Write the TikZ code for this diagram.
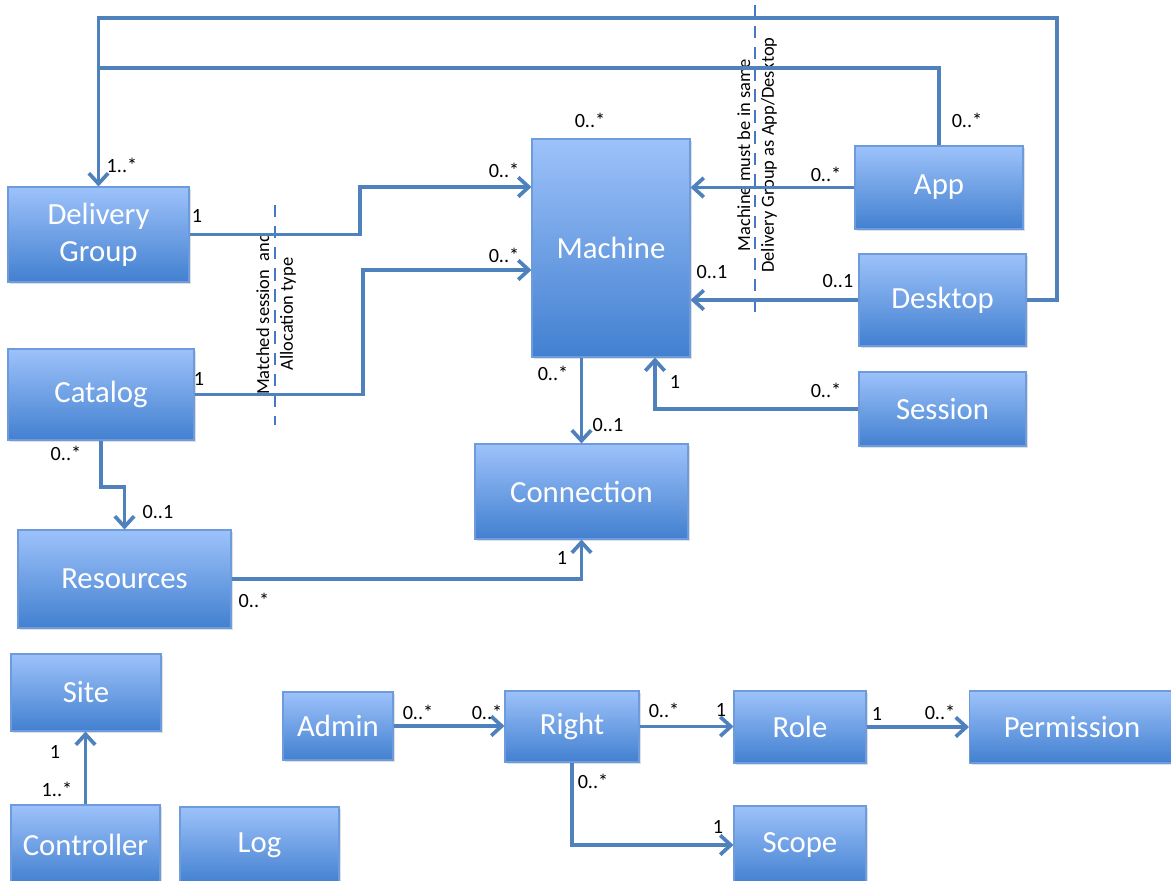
\documentclass[tikz,border=0pt]{standalone}
\usepackage{fontspec}
\setmainfont{Carlito}
\usetikzlibrary{arrows.meta,shadows}
\definecolor{boxtop}{RGB}{157,194,250}
\definecolor{boxbot}{RGB}{66,128,208}
\definecolor{boxline}{RGB}{110,155,220}
\definecolor{linkblue}{RGB}{79,129,189}
\definecolor{dashblue}{RGB}{70,120,195}
\begin{document}
\begin{tikzpicture}[x=0.02cm,y=-0.02cm,
	box/.style={draw=boxline,line width=0.6pt,top color=boxtop,bottom color=boxbot,text=white,align=center,
		font=\fontsize{17.5}{21}\selectfont,inner sep=0pt,drop shadow={shadow xshift=1.2pt,shadow yshift=-1.2pt,opacity=0.25}},
	link/.style={draw=linkblue,line width=2.1pt},
	arr/.style={link,-{Straight Barb[length=6pt,width=11pt]}},
	mult/.style={font=\fontsize{11.5}{13}\selectfont,inner sep=0pt},
	note/.style={font=\fontsize{10.5}{13.5}\selectfont,rotate=90,align=center,inner sep=0pt},
	guide/.style={draw=dashblue,line width=1.3pt,dash pattern=on 7pt off 5pt}]
				\useasboundingbox (0,0) rectangle (1171,881);
				\node[box,minimum width=3.62cm,minimum height=1.9cm] (dg) at (98.5,234.5) {Delivery\\Group};
				\node[box,minimum width=3.72cm,minimum height=1.82cm] (cat) at (101,394.5) {Catalog};
				\node[box,minimum width=4.26cm,minimum height=1.96cm] (res) at (124.5,579) {Resources};
				\node[box,minimum width=3.16cm,minimum height=4.36cm] (mach) at (611,248) {Machine};
				\node[box,minimum width=3.36cm,minimum height=1.66cm] (app) at (939,187.5) {App};
				\node[box,minimum width=3.34cm,minimum height=1.84cm] (desk) at (942.5,300) {Desktop};
				\node[box,minimum width=3.34cm,minimum height=1.48cm] (sess) at (942.5,409) {Session};
				\node[box,minimum width=4.26cm,minimum height=1.9cm] (conn) at (581.5,491.5) {Connection};
				\node[box,minimum width=3cm,minimum height=1.54cm] (site) at (86,692.5) {Site};
				\node[box,minimum width=2.98cm,minimum height=1.58cm] (ctrl) at (85.5,844.5) {Controller};
				\node[box,minimum width=3.18cm,minimum height=1.54cm] (log) at (259.5,845.5) {Log};
				\node[box,minimum width=2.2cm,minimum height=1.36cm] (admin) at (338,726) {Admin};
				\node[box,minimum width=2.68cm,minimum height=1.42cm] (right) at (572,726.5) {Right};
				\node[box,minimum width=2.64cm,minimum height=1.44cm] (role) at (800,727) {Role};
				\node[box,minimum width=4.1cm,minimum height=1.44cm] (perm) at (1072,727) {Permission};
				\node[box,minimum width=2.64cm,minimum height=1.56cm] (scope) at (800,845) {Scope};
				\draw[guide] (275,205) -- (275,425);
				\draw[guide] (755,5) -- (755,313);
				\node[note] (match) at (276,314) {Matched session\ \ and\\Allocation type};
				\node[note] (same) at (757,155) {Machine must be in same\\Delivery Group as App/Desktop};
				\draw[arr] (desk.east) -| (1057,18) -| (dg.north);
				\draw[link] (app.north) |- (98.5,68);
				\draw[arr] (dg.east) -| (360,187) -- (mach.west |- 0,187);
				\draw[arr] (cat.east) -| (363,270) -- (mach.west |- 0,270);
				\draw[arr] (app.west) -- (mach.east |- app.west);
				\draw[arr] (desk.west) -- (mach.east |- desk.west);
				\draw[arr] (sess.west) -| ([xshift=0.88cm]mach.south);
				\draw[arr] (conn.north |- mach.south) -- (conn.north);
				\draw[arr] (cat.south) -- (cat.south |- 0,487) -| (res.north);
				\draw[arr] (res.east) -| (conn.south);
				\draw[arr] (ctrl.north) -- (ctrl.north |- site.south);
				\draw[arr] (admin.east) -- (admin.east -| right.west);
				\draw[arr] (right.east) -- (right.east -| role.west);
				\draw[arr] (role.east) -- (role.east -| perm.west);
				\draw[arr] (right.south) |- (scope.west);
				\node[mult] (m1) at (122,165) {1..*};
				\node[mult] (m2) at (967,120) {0..*};
				\node[mult] (m3) at (590,120) {0..*};
				\node[mult] (m4) at (197,216) {1};
				\node[mult] (m5) at (504,170) {0..*};
				\node[mult] (m6) at (199,379) {1};
				\node[mult] (m7) at (504,255) {0..*};
				\node[mult] (m8) at (826,174) {0..*};
				\node[mult] (m9) at (838,281) {0..1};
				\node[mult] (m10) at (712,272) {0..1};
				\node[mult] (m11) at (826,390) {0..*};
				\node[mult] (m12) at (675,382) {1};
				\node[mult] (m13) at (553,373) {0..*};
				\node[mult] (m14) at (608,425) {0..1};
				\node[mult] (m15) at (66,453) {0..*};
				\node[mult] (m16) at (158,512) {0..1};
				\node[mult] (m17) at (254,600) {0..*};
				\node[mult] (m18) at (562,558) {1};
				\node[mult] (m19) at (55,752) {1};
				\node[mult] (m20) at (57,789) {1..*};
				\node[mult] (m21) at (418,712) {0..*};
				\node[mult] (m22) at (487,712) {0..*};
				\node[mult] (m23) at (664,710) {0..*};
				\node[mult] (m24) at (721,710) {1};
				\node[mult] (m25) at (877,714) {1};
				\node[mult] (m26) at (940,712) {0..*};
				\node[mult] (m27) at (593,781) {0..*};
				\node[mult] (m28) at (718,827) {1};
\end{tikzpicture}
\end{document}
